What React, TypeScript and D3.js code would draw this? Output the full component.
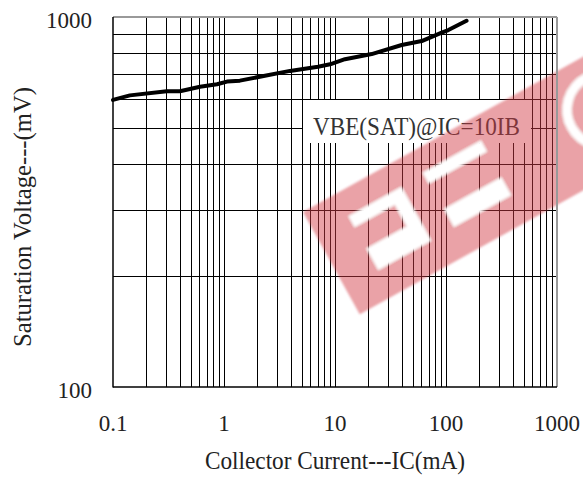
import React from 'react';
import * as d3 from 'd3';

// ---- data ----
const IC_mA = [0.1, 0.142, 0.305, 0.401, 0.608, 0.865, 1.064, 1.39, 3.93, 7.03, 9.02, 12.3, 21.4, 39.9, 60.4, 91.5, 105, 153];
const VBE_SAT_mV = [597, 614, 630, 630, 648, 658, 669, 673, 715, 734, 745, 769, 794, 840, 861, 907, 922, 977];

const X_DOMAIN = [0.1, 1000];
const Y_DOMAIN = [100, 1000];
const X_TICKS = [0.1, 1, 10, 100, 1000];
const X_TICK_LABELS = ['0.1', '1', '10', '100', '1000'];
const Y_TICKS = [100, 1000];
const Y_TICK_LABELS = ['100', '1000'];

const SERIES_LABEL = 'VBE(SAT)@IC=10IB';
const X_TITLE = 'Collector Current---IC(mA)';
const Y_TITLE = 'Saturation Voltage---(mV)';

const FONT = '"Liberation Serif", "Times New Roman", serif';

export default function App() {
  const W = 583, H = 478;
  const L = 113, R = 557, T = 17, B = 387;

  const x = d3.scaleLog().domain(X_DOMAIN).range([L, R]);
  const y = d3.scaleLog().domain(Y_DOMAIN).range([B, T]);

  const gx = x.ticks().filter(v => v > X_DOMAIN[0] * 1.0001 && v < X_DOMAIN[1] * 0.9999);
  const gy = y.ticks().filter(v => v > Y_DOMAIN[0] * 1.0001 && v < Y_DOMAIN[1] * 0.9999);

  const pts: [number, number][] = IC_mA.map((v, i) => [v, VBE_SAT_mV[i]]);
  const line = d3.line<[number, number]>().x(d => x(d[0])).y(d => y(d[1])).curve(d3.curveLinear);

  const crisp = (v: number) => Math.round(v) + 0.5;

  return (
    <svg width={W} height={H} style={{ position: 'absolute', left: 0, top: 0, background: '#fff' }}
      xmlns="http://www.w3.org/2000/svg">
      <defs>
        <filter id="soft" x="-5%" y="-5%" width="110%" height="110%">
          <feGaussianBlur stdDeviation="0.9" />
        </filter>
        <clipPath id="bandClip">
          <rect x={0} y={0} width={340} height={117} />
        </clipPath>
      </defs>
      <rect x={0} y={0} width={W} height={H} fill="#fff" />

      {/* grid */}
      <g stroke="#000" strokeWidth={1}>
        {gx.map((v, i) => (
          <line key={'gx' + i} x1={crisp(x(v))} x2={crisp(x(v))} y1={T} y2={B} />
        ))}
        {gy.map((v, i) => (
          <line key={'gy' + i} x1={L} x2={R} y1={crisp(y(v))} y2={crisp(y(v))} />
        ))}
      </g>

      {/* series label box */}
      <rect x={303} y={100} width={228} height={43} fill="#fff" />
      <text x={313} y={135} fontFamily={FONT} fontSize={25} fill="#333"
        textLength={207} lengthAdjust="spacingAndGlyphs">{SERIES_LABEL}</text>

      {/* watermark */}
      <g transform="translate(303,212) rotate(-29)" filter="url(#soft)">
        <g clipPath="url(#bandClip)">
          <rect x={0} y={0} width={340} height={117} fill="rgb(210,55,65)" opacity={0.47} />
          <g fill="#fff">
            <rect x={38} y={26} width={60} height={12} />
            <rect x={84} y={26} width={14} height={61} />
            <rect x={38} y={63} width={60} height={24} />
            <rect x={124} y={24} width={66} height={12} />
            <rect x={125} y={66} width={65} height={20} />
          </g>
          <circle cx={312} cy={56} r={36} fill="none" stroke="#fff" strokeWidth={9} />
        </g>
      </g>

      {/* frame */}
      <line x1={L} x2={R} y1={T} y2={T} stroke="#999" strokeWidth={2} />
      <line x1={R} x2={R} y1={T} y2={B} stroke="#999" strokeWidth={2} />
      <line x1={L} x2={L} y1={T} y2={B + 0.5} stroke="#000" strokeWidth={1.5} />
      <line x1={L} x2={R} y1={B} y2={B} stroke="#000" strokeWidth={1.5} />

      {/* curve */}
      <path d={line(pts) || ''} fill="none" stroke="#000" strokeWidth={4} strokeLinejoin="round" strokeLinecap="round" />

      {/* tick labels */}
      <g fontFamily={FONT} fontSize={23} fill="#222">
        {X_TICKS.map((v, i) => (
          <text key={'xl' + i} x={x(v)} y={431} textAnchor="middle">{X_TICK_LABELS[i]}</text>
        ))}
        {Y_TICKS.map((v, i) => (
          <text key={'yl' + i} x={92} y={y(v) + 3} dy="0.35em" textAnchor="end">{Y_TICK_LABELS[i]}</text>
        ))}
      </g>

      {/* axis titles */}
      <text x={335} y={469} textAnchor="middle" fontFamily={FONT} fontSize={25} fill="#222"
        textLength={260} lengthAdjust="spacingAndGlyphs">{X_TITLE}</text>
      <text transform="translate(31,217) rotate(-90)" textAnchor="middle" fontFamily={FONT} fontSize={25} fill="#222"
        textLength={260} lengthAdjust="spacingAndGlyphs">{Y_TITLE}</text>
    </svg>
  );
}
